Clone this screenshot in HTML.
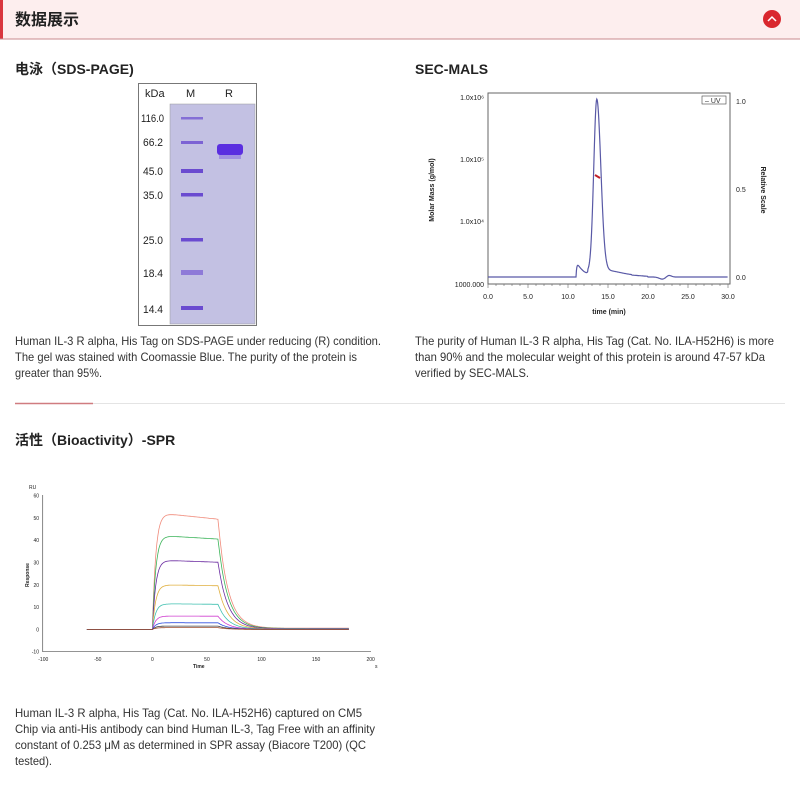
<!DOCTYPE html>
<html><head><meta charset="utf-8"><style>
html,body{margin:0;padding:0;background:#fff;width:800px;height:794px;overflow:hidden}
svg{display:block}
text{font-family:"Liberation Sans","Noto Sans CJK SC",sans-serif}
</style></head><body>
<svg id="s" width="800" height="794" viewBox="0 0 800 794" xmlns="http://www.w3.org/2000/svg">
<rect x="0" y="0" width="800" height="39" fill="#fdeeee"/>
<rect x="0" y="0" width="3" height="39" fill="#d9363e"/>
<line x1="0" y1="39" x2="800" y2="39" stroke="#c98a8e" stroke-width="1"/>
<text x="15" y="25" font-size="16" font-weight="bold" fill="#222">数据展示</text>
<circle cx="772" cy="19" r="9" fill="#d9272e"/>
<path d="M768 21 L772 17 L776 21" stroke="#fff" stroke-width="1.5" fill="none"/>
<text x="15" y="74" font-size="14" font-weight="bold" fill="#222">电泳（SDS-PAGE)</text>
<text x="415" y="74" font-size="14" font-weight="bold" fill="#222">SEC-MALS</text>

<rect x="138.5" y="83.5" width="118" height="242" fill="#fff" stroke="#777" stroke-width="1"/>
<rect x="170" y="104" width="85" height="220" fill="#c3c1e3" stroke="#999" stroke-width="0.5"/>
<text x="145" y="97" font-size="11" fill="#222">kDa</text>
<text x="186" y="97" font-size="11" fill="#222">M</text>
<text x="225" y="97" font-size="11" fill="#222">R</text>
<g font-size="11" fill="#222">
<text x="141" y="122" textLength="23" lengthAdjust="spacingAndGlyphs">116.0</text>
<text x="143" y="146" textLength="20" lengthAdjust="spacingAndGlyphs">66.2</text>
<text x="143" y="175" textLength="20" lengthAdjust="spacingAndGlyphs">45.0</text>
<text x="143" y="199" textLength="20" lengthAdjust="spacingAndGlyphs">35.0</text>
<text x="143" y="244" textLength="20" lengthAdjust="spacingAndGlyphs">25.0</text>
<text x="143" y="277" textLength="20" lengthAdjust="spacingAndGlyphs">18.4</text>
<text x="143" y="313" textLength="20" lengthAdjust="spacingAndGlyphs">14.4</text>
</g>
<g fill="#6a4bd0">
<rect x="181" y="117" width="22" height="2.5" opacity="0.7"/>
<rect x="181" y="141" width="22" height="3" opacity="0.8"/>
<rect x="181" y="169" width="22" height="4"/>
<rect x="181" y="193" width="22" height="3.5"/>
<rect x="181" y="238" width="22" height="3.5"/>
<rect x="181" y="270" width="22" height="5" opacity="0.6"/>
<rect x="181" y="306" width="22" height="4"/>
</g>
<rect x="217" y="144" width="26" height="11" rx="3" fill="#5a2ee0"/>
<rect x="219" y="155" width="22" height="4" fill="#8a70e0" opacity="0.6"/>

<rect x="488" y="93" width="242" height="191" fill="none" stroke="#666" stroke-width="1"/>
<path id="sec" fill="none" stroke="#5959a6" stroke-width="1.2"/>
<path d="M595 175 L600 178" stroke="#c0202a" stroke-width="2"/>
<rect x="702" y="96" width="24" height="8" fill="#fff" stroke="#444" stroke-width="0.6"/>
<text x="705" y="103" font-size="7" fill="#333">– UV</text>
<g font-size="7" fill="#222" text-anchor="end">
<text x="484" y="100">1.0x10⁶</text><text x="484" y="162">1.0x10⁵</text><text x="484" y="224">1.0x10⁴</text><text x="484" y="287">1000.000</text>
</g>
<g font-size="7" fill="#222">
<text x="736" y="104">1.0</text><text x="736" y="192">0.5</text><text x="736" y="280">0.0</text>
</g>
<g id="secx" font-size="7" fill="#222" text-anchor="middle"></g>
<text x="609" y="314" font-size="7" font-weight="bold" fill="#222" text-anchor="middle">time (min)</text>
<text transform="translate(434,190) rotate(-90)" font-size="7" font-weight="bold" fill="#222" text-anchor="middle">Molar Mass (g/mol)</text>
<text transform="translate(761,190) rotate(90)" font-size="7" font-weight="bold" fill="#222" text-anchor="middle">Relative Scale</text>

<g font-size="12" fill="#333">
<text x="15" y="345" textLength="366" lengthAdjust="spacingAndGlyphs">Human IL-3 R alpha, His Tag on SDS-PAGE under reducing (R) condition.</text>
<text x="15" y="361" textLength="342" lengthAdjust="spacingAndGlyphs">The gel was stained with Coomassie Blue. The purity of the protein is</text>
<text x="15" y="377" textLength="87" lengthAdjust="spacingAndGlyphs">greater than 95%.</text>
<text x="415" y="345" textLength="359" lengthAdjust="spacingAndGlyphs">The purity of Human IL-3 R alpha, His Tag (Cat. No. ILA-H52H6) is more</text>
<text x="415" y="361" textLength="350" lengthAdjust="spacingAndGlyphs">than 90% and the molecular weight of this protein is around 47-57 kDa</text>
<text x="415" y="377" textLength="114" lengthAdjust="spacingAndGlyphs">verified by SEC-MALS.</text>
<text x="15" y="717" textLength="347" lengthAdjust="spacingAndGlyphs">Human IL-3 R alpha, His Tag (Cat. No. ILA-H52H6) captured on CM5</text>
<text x="15" y="733" textLength="360" lengthAdjust="spacingAndGlyphs">Chip via anti-His antibody can bind Human IL-3, Tag Free with an affinity</text>
<text x="15" y="749" textLength="351" lengthAdjust="spacingAndGlyphs">constant of 0.253 μM as determined in SPR assay (Biacore T200) (QC</text>
<text x="15" y="765" textLength="37" lengthAdjust="spacingAndGlyphs">tested).</text>
</g>
<line x1="15" y1="403.5" x2="785" y2="403.5" stroke="#e4e4e4"/>
<line x1="15" y1="403.5" x2="93" y2="403.5" stroke="#d07c80" stroke-width="1.5"/>
<text x="15" y="445" font-size="14" font-weight="bold" fill="#222">活性（Bioactivity）-SPR</text>

<line x1="42.7" y1="495" x2="42.7" y2="652" stroke="#555" stroke-width="0.7"/>
<line x1="42.7" y1="651.7" x2="371" y2="651.7" stroke="#555" stroke-width="0.7"/>
<g id="sprax" font-size="5" fill="#222"></g>
<text x="29" y="489" font-size="5" fill="#222">RU</text>
<text x="193" y="668" font-size="5" fill="#222" font-weight="bold">Time</text>
<text x="375" y="668" font-size="5" fill="#222">s</text>
<text transform="translate(29,575) rotate(-90)" font-size="5" fill="#222" font-weight="bold" text-anchor="middle">Response</text>
<g id="spr"></g>
</svg>
<script>
var NS="http://www.w3.org/2000/svg";
function X(t){return 488+t*8;} function Y(v){return 277-176*v;}
function g(t,c,w){return Math.exp(-0.5*Math.pow((t-c)/w,2));}
var d="";
for(var t=0;t<=30;t+=0.05){
 var v=0.98*(t<13.6?g(t,13.6,0.38):g(t,13.6,0.5))+0.085*(t>11.0?Math.exp(-(t-11.1)/0.9)*(1-Math.exp(-(t-11.0)/0.1)):0)+0.03*(t>12.5&&t<18?g(t,14.5,1.6):0)+0.012*(t>14&&t<20?1:0)*g(t,17,2)-0.012*g(t,21.8,0.4)+0.01*g(t,22.6,0.3);
 d+=(d?"L":"M")+X(t).toFixed(1)+" "+Y(v).toFixed(1);
}
document.getElementById("sec").setAttribute("d",d);
var sx=document.getElementById("secx");
for(var i=0;i<=6;i++){var e=document.createElementNS(NS,"text");e.setAttribute("x",X(i*5));e.setAttribute("y",299);e.textContent=(i*5).toFixed(1);sx.appendChild(e);}
var s=document.getElementById("s");
for(var t2=0;t2<=30;t2+=1){var l=document.createElementNS(NS,"line");l.setAttribute("x1",X(t2));l.setAttribute("x2",X(t2));l.setAttribute("y1",284);l.setAttribute("y2",t2%5?286:288);l.setAttribute("stroke","#666");l.setAttribute("stroke-width","0.6");s.appendChild(l);}
function SX(t){return 152.4+1.0913*t;} function SY(v){return 629.4-2.229*v;}
var ax=document.getElementById("sprax");
for(var v=-10;v<=60;v+=10){var e=document.createElementNS(NS,"text");e.setAttribute("x",39);e.setAttribute("y",SY(v)+2);e.setAttribute("text-anchor","end");e.textContent=v;ax.appendChild(e);}
for(var t=-100;t<=200;t+=50){var e=document.createElementNS(NS,"text");e.setAttribute("x",SX(t));e.setAttribute("y",661);e.setAttribute("text-anchor","middle");e.textContent=t;ax.appendChild(e);}
var cur=[[52,"#f08a7a",0.35],[42,"#3cb45a",0.25],[31,"#6a2aa0",0.2],[20,"#e0b040",0.15],[11.5,"#40c0b0",0.15],[6,"#d040d0",0.1],[3,"#3050e0",0.1],[1.5,"#404040",0.05],[0.8,"#a05030",0.05]];
var sp=document.getElementById("spr");
cur.forEach(function(c){
 var R=c[0],d="";
 for(var t=-60;t<=180;t+=1){
  var v;
  if(t<0)v=0;
  else if(t<=60)v=R*(1-Math.exp(-t/3))*(1-c[2]*0.0028*Math.max(0,t-10));
  else {var r60=R*(1-c[2]*0.0028*50);v=r60*Math.exp(-(t-60)/9)+0.01*R;}
  d+=(d?"L":"M")+SX(t).toFixed(1)+" "+SY(v).toFixed(1);
 }
 var p=document.createElementNS(NS,"path");p.setAttribute("d",d);p.setAttribute("fill","none");p.setAttribute("stroke",c[1]);p.setAttribute("stroke-width","0.8");sp.appendChild(p);
});
</script>
</body></html>
